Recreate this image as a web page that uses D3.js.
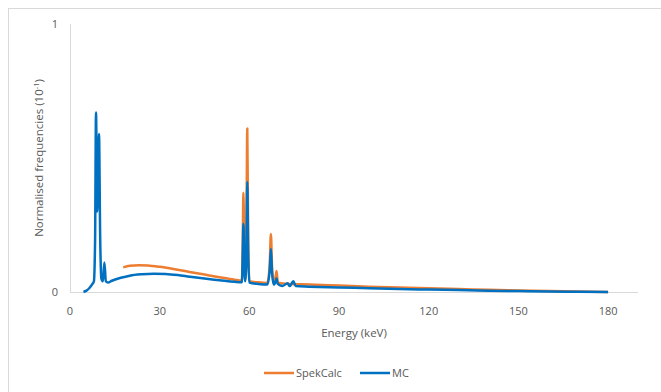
<!DOCTYPE html>
<html>
<head>
<meta charset="utf-8">
<script src="https://cdn.jsdelivr.net/npm/d3@7"></script>
<style>
  html, body { margin: 0; padding: 0; background: #fff; }
  svg { display: block; font-family: "Open Sans", "Liberation Sans", sans-serif; }
</style>
</head>
<body>
<svg id="chart" width="661" height="392"></svg>
<script>
// ---- data ----
const mcEnergy = [4.5, 5.5, 6.5, 7.5, 8.0, 8.4, 8.7, 9.1, 9.4, 9.7, 10.1, 10.5, 11.0, 11.5, 12.0, 12.7,
  14, 17, 20, 24, 28, 32, 36, 40, 45, 50, 55, 57.5, 57.8, 58.0, 58.3, 58.6, 59.0, 59.3, 59.6, 60.0,
  63, 66, 66.8, 67.2, 67.6, 68.2, 68.8, 69.1, 69.5, 71, 72.8, 73.5, 74.7, 75.5,
  80, 90, 100, 110, 120, 130, 140, 150, 160, 170, 180];
const mcValue = [0, 0.005, 0.015, 0.03, 0.04, 0.2, 0.67, 0.3, 0.45, 0.59, 0.2, 0.05, 0.04, 0.11, 0.04, 0.035,
  0.042, 0.053, 0.061, 0.066, 0.068, 0.067, 0.063, 0.057, 0.05, 0.044, 0.038, 0.036, 0.15, 0.254, 0.12, 0.04, 0.15, 0.41, 0.15, 0.035,
  0.03, 0.028, 0.08, 0.16, 0.07, 0.027, 0.04, 0.05, 0.03, 0.022, 0.033, 0.022, 0.04, 0.022,
  0.02, 0.017, 0.014, 0.011, 0.009, 0.007, 0.005, 0.0035, 0.002, 0.001, 0];

const spekEnergy = [17.8, 20, 23, 26, 30, 35, 40, 45, 50, 55, 57.5, 57.8, 58.0, 58.3, 58.6, 59.0, 59.3, 59.6, 60,
  63, 66, 66.8, 67.2, 67.6, 68.2, 68.8, 69.1, 69.5, 72, 80, 90, 100, 110, 120, 130, 140, 150, 160, 170, 180];
const spekValue = [0.092, 0.098, 0.1, 0.099, 0.094, 0.085, 0.075, 0.065, 0.055, 0.046, 0.043, 0.2, 0.37, 0.15, 0.045, 0.2, 0.61, 0.2, 0.04,
  0.036, 0.034, 0.1, 0.216, 0.09, 0.033, 0.06, 0.078, 0.035, 0.031, 0.028, 0.024, 0.02, 0.017, 0.014, 0.011, 0.008, 0.006, 0.004, 0.002, 0];

const xTicks = [0, 30, 60, 90, 120, 150, 180];
const yTicks = [0, 1];
const seriesNames = ["SpekCalc", "MC"];
const seriesColors = ["#ED7D31", "#0070C0"];

// ---- chart ----
const svg = d3.select("#chart");
const grey = "#d9d9d9", textCol = "#595959";

// outer chart frame
svg.append("rect").attr("x", 8.5).attr("y", 8.5).attr("width", 700).attr("height", 400)
  .attr("fill", "none").attr("stroke", grey);

const x = d3.scaleLinear().domain([0, 190]).range([70, 638]);
const y = d3.scaleLinear().domain([0, 1]).range([292, 24]);

// axes lines
svg.append("line").attr("x1", x(0)).attr("x2", x(190)).attr("y1", y(0) + 0.5).attr("y2", y(0) + 0.5)
  .attr("stroke", grey).attr("stroke-width", 1);
svg.append("line").attr("x1", x(0) + 0.5).attr("x2", x(0) + 0.5).attr("y1", y(1)).attr("y2", y(0))
  .attr("stroke", grey).attr("stroke-width", 1);

// tick labels
svg.append("g").selectAll("text").data(xTicks).join("text")
  .attr("x", d => x(d)).attr("y", 315).attr("text-anchor", "middle")
  .attr("font-size", 11).attr("fill", textCol).text(d => d);
svg.append("g").selectAll("text").data(yTicks).join("text")
  .attr("x", 58).attr("y", d => y(d) + 4).attr("text-anchor", "end")
  .attr("font-size", 11).attr("fill", textCol).text(d => d);

// axis titles
svg.append("text").attr("x", 354).attr("y", 337).attr("text-anchor", "middle")
  .attr("font-size", 11.5).attr("fill", textCol).text("Energy (keV)");
const yt = svg.append("text").attr("transform", "translate(43,158) rotate(-90)")
  .attr("text-anchor", "middle").attr("font-size", 11.5).attr("fill", textCol);
yt.append("tspan").text("Normalised frequencies (10");
yt.append("tspan").attr("font-size", 7.5).attr("dy", -4).text("-1");
yt.append("tspan").attr("dy", 4).text(")");

// lines
const line = d3.line().x(d => x(d[0])).y(d => y(d[1])).curve(d3.curveMonotoneX);
const spekData = spekEnergy.map((e, i) => [e, spekValue[i]]);
const mcData = mcEnergy.map((e, i) => [e, mcValue[i]]);
svg.append("path").attr("d", line(spekData)).attr("fill", "none")
  .attr("stroke", seriesColors[0]).attr("stroke-width", 2.5).attr("stroke-linejoin", "round");
svg.append("path").attr("d", line(mcData)).attr("fill", "none")
  .attr("stroke", seriesColors[1]).attr("stroke-width", 2.5).attr("stroke-linejoin", "round");

// legend
const legX = [264, 360];
seriesNames.forEach((n, i) => {
  svg.append("line").attr("x1", legX[i]).attr("x2", legX[i] + 30).attr("y1", 373).attr("y2", 373)
    .attr("stroke", seriesColors[i]).attr("stroke-width", 2.5);
  svg.append("text").attr("x", legX[i] + 32).attr("y", 377).attr("font-size", 11)
    .attr("fill", textCol).text(n);
});
</script>
</body>
</html>
